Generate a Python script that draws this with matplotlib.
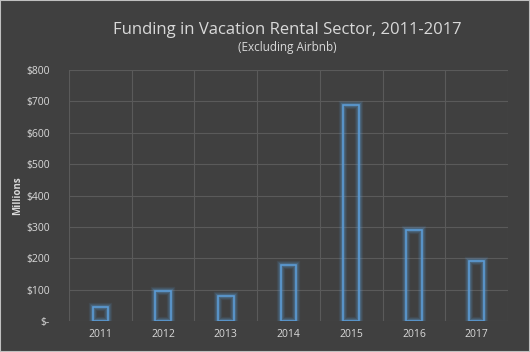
import matplotlib.pyplot as plt
from matplotlib.ticker import FuncFormatter

years = ["2011", "2012", "2013", "2014", "2015", "2016", "2017"]
funding = [44, 95, 79, 178, 688, 291, 190]

bg = "#404040"
grid_col = "#5a5a5a"
text_col = "#d9d9d9"
bar_col = "#5b9bd5"

plt.rcParams["font.family"] = ["Open Sans", "DejaVu Sans"]

fig = plt.figure(figsize=(5.3, 3.52), dpi=100, facecolor=bg)
ax = fig.add_axes([69 / 530, 1 - 321 / 352, 439 / 530, 251 / 352])
ax.set_facecolor(bg)

x = range(len(years))
# soft glow around the bar outlines
for lw, a in [(6, 0.1), (4.5, 0.15), (3, 0.25)]:
    ax.bar(x, funding, width=0.25, facecolor="none", edgecolor=bar_col,
           linewidth=lw, alpha=a, zorder=3)
ax.bar(x, funding, width=0.25, facecolor="none", edgecolor=bar_col,
       linewidth=1.2, zorder=4)

ax.set_xlim(-0.5, len(years) - 0.5)
ax.set_ylim(0, 800)
ax.set_yticks(range(0, 801, 100))
ax.yaxis.set_major_formatter(FuncFormatter(lambda v, p: "$-" if v == 0 else f"${int(v)}"))
ax.set_xticks(list(x))
ax.set_xticklabels(years)
ax.set_xticks([i + 0.5 for i in range(-1, len(years))], minor=True)
ax.grid(True, which="minor", axis="x", color=grid_col, linewidth=0.8)
ax.grid(True, which="major", axis="y", color=grid_col, linewidth=0.8)
ax.set_axisbelow(True)
for s in ax.spines.values():
    s.set_visible(False)
ax.tick_params(which="both", length=0, colors=text_col, labelsize=7.5)
ax.tick_params(axis="y", pad=14)
ax.tick_params(axis="x", pad=6)

ax.set_ylabel("Millions", color=text_col, fontsize=7, fontweight="bold", labelpad=2)

fig.text(287 / 530, 1 - 30 / 352, "Funding in Vacation Rental Sector, 2011-2017",
         ha="center", va="center", color=text_col, fontsize=12)
fig.text(287 / 530, 1 - 47 / 352, "(Excluding Airbnb)",
         ha="center", va="center", color=text_col, fontsize=8.5)

fig.patches.append(plt.Rectangle((0, 0), 1, 1, transform=fig.transFigure,
                                 fill=False, edgecolor="#c0c0c0", linewidth=1.5))

fig.savefig("out.png", dpi=100, facecolor=bg)
